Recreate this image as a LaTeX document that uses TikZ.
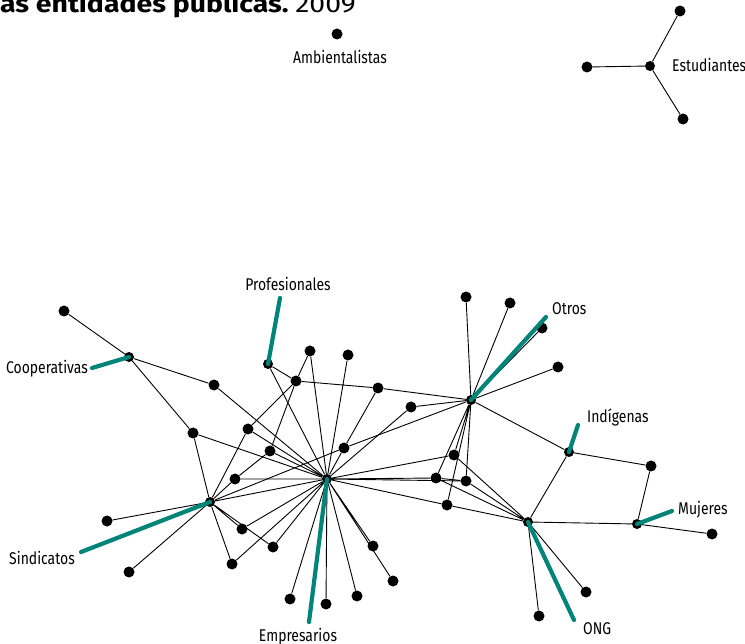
\documentclass[tikz,border=0pt]{standalone}
\usepackage{fontspec}
\setmainfont{Fira Sans}[FakeStretch=0.82]
\newfontfamily\titlefont{Fira Sans}[FakeStretch=1.16]
\usetikzlibrary{backgrounds}
\definecolor{tealc}{RGB}{0,133,120}
\begin{document}
\begin{tikzpicture}[x=1pt,y=-1pt,
  dot/.style={circle,fill=black,inner sep=0pt,minimum size=11pt},
  hub/.style={circle,fill=black,inner sep=0pt,minimum size=10pt},
  link/.style={draw=black,line width=0.9pt},
  tealbar/.style={draw=tealc,line width=4.2pt,line cap=round},
  lab/.style={font=\fontsize{17}{19}\selectfont,inner sep=0pt}]
\useasboundingbox (0,0) rectangle (745,644);

% title
\node[anchor=base west,inner sep=0pt] (title) at (0,13)
  {\titlefont\fontsize{24.5}{26}\selectfont\bfseries as entidades públicas.\ \mdseries 2009};

% isolated and small components
\node[dot] (amb) at (337,34) {};
\node[hub] (st) at (650,66) {};
\node[dot] (st1) at (680,11) {};
\node[dot] (st2) at (587,67) {};
\node[dot] (st3) at (683,119) {};

% main network
\node[hub] (C) at (129,357) {};
\node[dot] (c1) at (64,311) {};
\node[dot] (a) at (214,385) {};
\node[dot] (b) at (193,433) {};
\node[hub] (S) at (210,502) {};
\node[dot] (s1) at (107,521) {};
\node[dot] (s2) at (129,572) {};
\node[dot] (s3) at (232,564) {};
\node[dot] (s4) at (242,529) {};
\node[dot] (s5) at (273,547) {};
\node[dot] (d) at (235,479) {};
\node[hub] (P) at (268,364) {};
\node[dot] (e) at (296,381) {};
\node[dot] (f) at (310,351) {};
\node[dot] (g) at (248,429) {};
\node[dot] (h) at (270,451) {};
\node[hub] (E) at (327,479) {};
\node[dot] (i) at (348,355) {};
\node[dot] (j) at (378,388) {};
\node[dot] (k) at (411,407) {};
\node[dot] (l) at (344,448) {};
\node[hub] (O) at (471,400) {};
\node[dot] (o1) at (466,297) {};
\node[dot] (o2) at (510,303) {};
\node[dot] (o3) at (542,328) {};
\node[dot] (o4) at (558,367) {};
\node[dot] (m) at (454,455) {};
\node[dot] (n) at (436,478) {};
\node[dot] (o) at (466,481) {};
\node[dot] (p) at (447,505) {};
\node[hub] (N) at (528,522) {};
\node[dot] (n1) at (586,592) {};
\node[dot] (n2) at (539,616) {};
\node[hub] (I) at (569,452) {};
\node[dot] (q) at (651,466) {};
\node[hub] (M) at (637,524) {};
\node[dot] (r) at (712,534) {};
\node[dot] (e1) at (290,599) {};
\node[dot] (e2) at (326,604) {};
\node[dot] (e3) at (357,596) {};
\node[dot] (e4) at (373,546) {};
\node[dot] (e5) at (393,581) {};

\begin{pgfonlayer}{background}
\path[link] (st) -- (st1) (st) -- (st2) (st) -- (st3);
\path[link] (C) -- (c1) (C) -- (a) (C) -- (b) (a) -- (E)
  (b) -- (S) (b) -- (E);
\path[link] (S) -- (s1) (S) -- (s2) (S) -- (s3) (S) -- (s4) (S) -- (s5)
  (S) -- (d) (S) -- (g) (S) -- (E) (S) -- (l) (l) -- (O);
\path[link] (s3) -- (E) (s4) -- (E) (s5) -- (E) (d) -- (E) (d) -- (h)
  (g) -- (e) (g) -- (E) (h) -- (e) (h) -- (E) (P) -- (e) (P) -- (E)
  (e) -- (f) (e) -- (j) (f) -- (E) (i) -- (E) (j) -- (O) (j) -- (l) (l) -- (E)
  (k) -- (O) (k) -- (E);
\path[link] (E) -- (m) (E) -- (n) (E) -- (o) (E) -- (p) (p) -- (N)
  (E) -- (e1) (E) -- (e2) (E) -- (e3) (E) -- (e4) (E) -- (e5);
\path[link] (O) -- (o1) (O) -- (o2) (O) -- (o3) (O) -- (o4)
  (O) -- (m) (O) -- (n) (O) -- (o) (O) -- (p) (O) -- (I);
\path[link] (m) -- (N) (n) -- (N) (o) -- (N) (n) -- (o)
  (N) -- (I) (N) -- (M) (N) -- (n1) (N) -- (n2)
  (I) -- (q) (q) -- (M) (M) -- (r);
\end{pgfonlayer}

% teal pointers
\coordinate (tC) at (92,368);
\coordinate (tP) at (280,298);
\coordinate (tS) at (81,552);
\coordinate (tE) at (309,622);
\coordinate (tO) at (546,317);
\coordinate (tI) at (578,425);
\coordinate (tM) at (672,511);
\coordinate (tN) at (574,620);
\draw[tealbar] (C.center) -- (tC);
\draw[tealbar] (P.center) -- (tP);
\draw[tealbar] (S.center) -- (tS);
\draw[tealbar] (E.center) -- (tE);
\draw[tealbar] (O.center) -- (tO);
\draw[tealbar] (I.center) -- (tI);
\draw[tealbar] (M.center) -- (tM);
\draw[tealbar] (N.center) -- (tN);

% labels
\node[lab,anchor=base] (lamb) at (340,64) {Ambientalistas};
\node[lab,anchor=base west] (lst) at (672,72) {Estudiantes};
\node[lab,anchor=base east] (lcoop) at (88,374) {Cooperativas};
\node[lab,anchor=base] (lprof) at (288,291) {Profesionales};
\node[lab,anchor=base] (lsind) at (42,564) {Sindicatos};
\node[lab,anchor=base] (lemp) at (298,641) {Empresarios};
\node[lab,anchor=base west] (lotros) at (552,315) {Otros};
\node[lab,anchor=base west] (lind) at (587,423) {Indígenas};
\node[lab,anchor=base west] (lmuj) at (678,514) {Mujeres};
\node[lab,anchor=base west] (long) at (583,634) {ONG};
\end{tikzpicture}
\end{document}
